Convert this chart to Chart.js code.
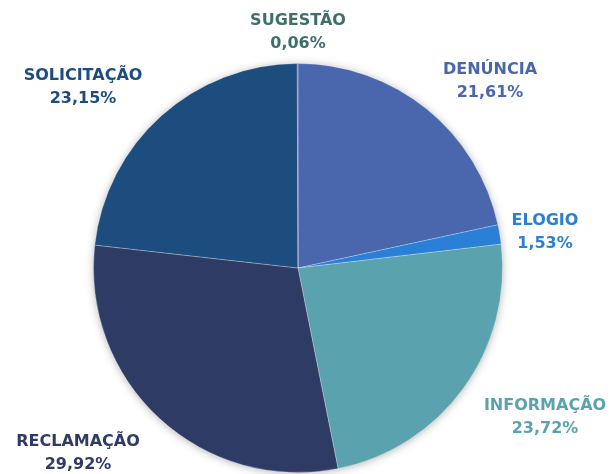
<!DOCTYPE html>
<html>
<head>
<meta charset="utf-8">
<script src="https://cdn.jsdelivr.net/npm/chart.js@4"></script>
<style>
  html, body { margin: 0; padding: 0; background: #fff; }
  .container { width: 612px; height: 474px; }
</style>
</head>
<body>
<div class="container">
  <canvas id="myChart" width="612" height="474"></canvas>
</div>
<script>
const categories = ["DENÚNCIA", "ELOGIO", "INFORMAÇÃO", "RECLAMAÇÃO", "SOLICITAÇÃO", "SUGESTÃO"];
const shares = [21.61, 1.53, 23.72, 29.92, 23.15, 0.06];
const sliceColors = ["#4a66ad", "#2a7fd6", "#5aa3ae", "#2e3c65", "#1d4c7e", "#3f6f6c"];
const labelColors = ["#4a66ad", "#2a7fd6", "#5aa3ae", "#2e3c65", "#1d4c7e", "#3f6f6c"];

// where each label's text is centred (first line)
const labelAnchors = [
  [490, 70], [545, 221], [545, 406], [78, 442], [83, 76], [298, 21]
];

const pieShadow = {
  id: "pieShadow",
  beforeDatasetsDraw(chart) {
    const arc = chart.getDatasetMeta(0).data[0];
    const ctx = chart.ctx;
    ctx.save();
    ctx.shadowColor = "rgba(0,0,0,0.35)";
    ctx.shadowBlur = 10;
    ctx.shadowOffsetX = 0;
    ctx.shadowOffsetY = 1;
    ctx.fillStyle = "#ffffff";
    ctx.beginPath();
    ctx.arc(arc.x, arc.y, arc.outerRadius - 1, 0, Math.PI * 2);
    ctx.fill();
    ctx.restore();
  }
};

const sliceLabels = {
  id: "sliceLabels",
  afterDraw(chart) {
    const ctx = chart.ctx;
    ctx.save();
    ctx.font = "bold 16px 'DejaVu Sans'";
    ctx.textAlign = "center";
    ctx.textBaseline = "middle";
    categories.forEach((name, i) => {
      const [x, y] = labelAnchors[i];
      ctx.fillStyle = labelColors[i];
      ctx.fillText(name, x, y);
      ctx.fillText(shares[i].toFixed(2).replace(".", ",") + "%", x, y + 23);
    });
    ctx.restore();
  }
};

new Chart(document.getElementById("myChart"), {
  type: "pie",
  data: {
    labels: categories,
    datasets: [{
      data: shares,
      backgroundColor: sliceColors,
      borderColor: "rgba(255,255,255,0.25)",
      borderWidth: 1,
      hoverOffset: 0
    }]
  },
  options: {
    responsive: false,
    animation: false,
    layout: { padding: { top: 63, bottom: 1, left: 93, right: 109 } },
    plugins: {
      legend: { display: false },
      tooltip: { enabled: false }
    }
  },
  plugins: [pieShadow, sliceLabels]
});
</script>
</body>
</html>
